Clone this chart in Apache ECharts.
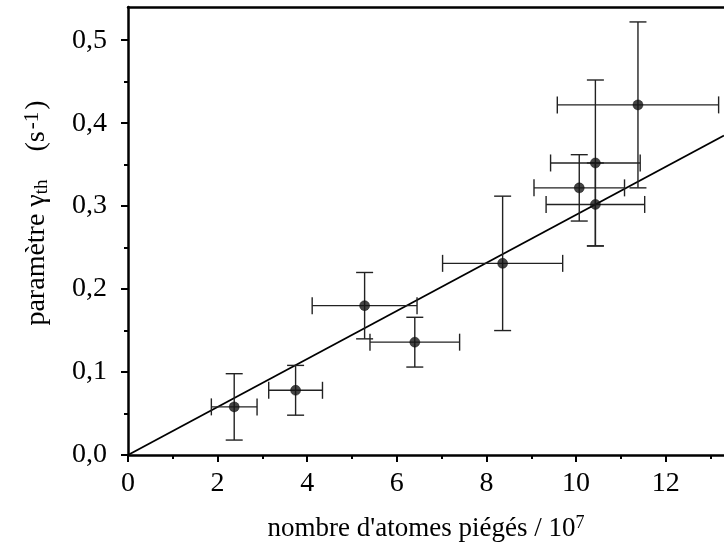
<!DOCTYPE html>
<html>
<head>
<meta charset="utf-8">
<script src="https://cdn.jsdelivr.net/npm/echarts@6.0.0/dist/echarts.min.js"></script>
<style>html,body{margin:0;padding:0;background:#fff;}#chart{width:724px;height:542px;}</style>
</head>
<body>
<div id="chart"></div>
<script>
// Data
const xValues = [2.37, 3.74, 5.28, 6.40, 8.36, 10.07, 10.43, 10.43, 11.38];
const yValues = [0.058, 0.078, 0.180, 0.136, 0.231, 0.322, 0.352, 0.302, 0.422];
const xErrors = [0.51, 0.60, 1.17, 1.00, 1.34, 1.01, 1.00, 1.10, 1.80];
const yErrors = [0.040, 0.030, 0.040, 0.030, 0.081, 0.040, 0.100, 0.050, 0.100];
// fitted line end points
const fitX = [0, 13.3];
const fitY = [0, 0.385];
// ticks
const xMajorTicks = [0, 2, 4, 6, 8, 10, 12];
const xMinorTicks = [1, 3, 5, 7, 9, 11, 13];
const yMajorTicks = [0, 0.1, 0.2, 0.3, 0.4, 0.5];
const yMinorTicks = [0.05, 0.15, 0.25, 0.35, 0.45];

const X_MIN = 0, X_MAX = 13.3, Y_MIN = 0, Y_MAX = 0.54;
const FONT = '"Liberation Serif", "Times New Roman", serif';

const points = xValues.map((x, i) => [x, yValues[i]]);
const errData = xValues.map((x, i) => [x, yValues[i], xErrors[i], yErrors[i]]);
const fitData = fitX.map((x, i) => [x, fitY[i]]);

const chart = echarts.init(document.getElementById('chart'), null, {renderer: 'canvas'});

const hiddenCommon = {
  type: 'value', splitLine: {show: false}, axisLabel: {show: false}
};

chart.setOption({
  animation: false,
  backgroundColor: '#fff',
  grid: {left: 128, right: 0, top: 7, bottom: 87, containLabel: false, outerBoundsMode: 'none'},
  xAxis: [
    {
      type: 'value', min: X_MIN, max: X_MAX, position: 'bottom',
      name: "{a|nombre d'atomes piégés / 10}{sup|7}",
      nameLocation: 'middle', nameGap: 59,
      nameTextStyle: {
        color: '#000',
        rich: {
          a: {fontFamily: FONT, fontSize: 27, color: '#000', lineHeight: 30},
          sup: {fontFamily: FONT, fontSize: 18, color: '#000', lineHeight: 18, verticalAlign: 'top'}
        }
      },
      splitLine: {show: false},
      axisLine: {show: true, onZero: false, lineStyle: {color: '#000', width: 2.5}},
      axisTick: {show: true, inside: false, length: 7, customValues: xMajorTicks, lineStyle: {color: '#000', width: 2}},
      axisLabel: {
        customValues: xMajorTicks, margin: 15, color: '#000', fontFamily: FONT, fontSize: 28,
        formatter: v => String(v)
      }
    },
    Object.assign({}, hiddenCommon, {
      min: X_MIN, max: X_MAX, position: 'bottom',
      axisLine: {show: false, onZero: false},
      axisTick: {show: true, inside: false, length: 4, customValues: xMinorTicks, lineStyle: {color: '#000', width: 2}}
    }),
    Object.assign({}, hiddenCommon, {
      min: X_MIN, max: X_MAX, position: 'top',
      axisLine: {show: true, onZero: false, lineStyle: {color: '#000', width: 2.5}},
      axisTick: {show: false}
    })
  ],
  yAxis: [
    {
      type: 'value', min: Y_MIN, max: Y_MAX, position: 'left',
      name: '{a|paramètre }{a|γ}{sub|th}{a|    (s}{sup|-1}{a|)}',
      nameLocation: 'middle', nameGap: 76, nameRotate: 90,
      nameTextStyle: {
        color: '#000',
        padding: [0, 0, 0, 36],
        rich: {
          a: {fontFamily: FONT, fontSize: 28, color: '#000', lineHeight: 30},
          sub: {fontFamily: FONT, fontSize: 19, color: '#000', lineHeight: 18, verticalAlign: 'bottom'},
          sup: {fontFamily: FONT, fontSize: 21, color: '#000', lineHeight: 18, verticalAlign: 'top', padding: [0, 2, 0, 2]}
        }
      },
      splitLine: {show: false},
      axisLine: {show: true, onZero: false, lineStyle: {color: '#000', width: 2.5}},
      axisTick: {show: true, inside: false, length: 7, customValues: yMajorTicks, lineStyle: {color: '#000', width: 2}},
      axisLabel: {
        customValues: yMajorTicks, margin: 21, color: '#000', fontFamily: FONT, fontSize: 28,
        formatter: v => v.toFixed(1).replace('.', ',')
      }
    },
    Object.assign({}, hiddenCommon, {
      min: Y_MIN, max: Y_MAX, position: 'left',
      axisLine: {show: false, onZero: false},
      axisTick: {show: true, inside: false, length: 4, customValues: yMinorTicks, lineStyle: {color: '#000', width: 2}}
    })
  ],
  series: [
    {
      type: 'line', xAxisIndex: 0, yAxisIndex: 0, data: fitData, symbol: 'none',
      lineStyle: {color: '#000', width: 1.8}, z: 2, silent: true
    },
    {
      type: 'custom', xAxisIndex: 0, yAxisIndex: 0, data: errData, z: 3, silent: true,
      renderItem: function (params, api) {
        const x = api.value(0), y = api.value(1), ex = api.value(2), ey = api.value(3);
        const l = api.coord([x - ex, y]), r = api.coord([x + ex, y]);
        const t = api.coord([x, y + ey]), b = api.coord([x, y - ey]);
        const cap = 8.5;
        const st = {stroke: '#222', lineWidth: 1.4};
        const mk = (x1, y1, x2, y2) => ({type: 'line', shape: {x1, y1, x2, y2}, style: st});
        return {
          type: 'group',
          children: [
            mk(l[0], l[1], r[0], r[1]),
            mk(l[0], l[1] - cap, l[0], l[1] + cap),
            mk(r[0], r[1] - cap, r[0], r[1] + cap),
            mk(t[0], t[1], b[0], b[1]),
            mk(t[0] - cap, t[1], t[0] + cap, t[1]),
            mk(b[0] - cap, b[1], b[0] + cap, b[1])
          ]
        };
      }
    },
    {
      type: 'scatter', xAxisIndex: 0, yAxisIndex: 0, data: points, symbol: 'circle', symbolSize: 10,
      itemStyle: {color: '#151515', borderColor: '#000', borderWidth: 0.5}, z: 4, silent: true
    }
  ]
});
</script>
</body>
</html>
